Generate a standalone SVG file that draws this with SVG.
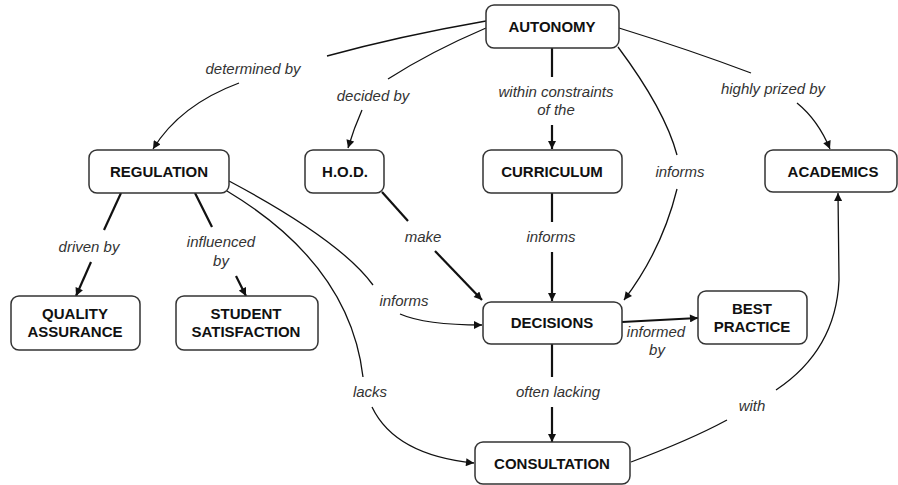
<svg xmlns="http://www.w3.org/2000/svg" width="898" height="485" viewBox="0 0 898 485">
  <style>
    .box { fill: #ffffff; stroke: #333333; stroke-width: 1.5; }
    .name { font-family: "Liberation Sans", Arial, sans-serif; font-weight: bold; font-size: 15px; fill: #111111; text-anchor: middle; }
    .lbl { font-family: "Liberation Sans", Arial, sans-serif; font-style: italic; font-size: 15px; fill: #333333; text-anchor: middle; }
    .thin { fill: none; stroke: #111111; stroke-width: 1.3; }
    .thick { fill: none; stroke: #111111; stroke-width: 2.2; }
    .arr { marker-end: url(#head); }
  </style>
  <defs>
    <marker id="head" viewBox="0 0 10 10" refX="10" refY="5" markerWidth="9" markerHeight="8" markerUnits="userSpaceOnUse" orient="auto">
      <path d="M0,0 L10,5 L0,10 Z" fill="#111111"/>
    </marker>
  </defs>

  <rect width="898" height="485" fill="#ffffff"/>

  <!-- connectors -->
  <g id="connectors">
    <!-- AUTONOMY - determined by - REGULATION -->
    <path class="thin" d="M486,21 Q400,36 327,56"/>
    <path class="thin arr" d="M239,83 Q180,105 153,149"/>
    <!-- AUTONOMY - decided by - H.O.D. -->
    <path class="thin" d="M486,28 Q430,52 388,79"/>
    <path class="thin arr" d="M362,110 Q354,128 348,148"/>
    <!-- AUTONOMY - within constraints of the - CURRICULUM -->
    <path class="thick" d="M552,48 L552,77"/>
    <path class="thick arr" d="M552,125 L552,149"/>
    <!-- AUTONOMY - informs - DECISIONS -->
    <path class="thin" d="M618,47 Q665,110 677,155"/>
    <path class="thin arr" d="M677,189 Q662,250 624,300"/>
    <!-- AUTONOMY - highly prized by - ACADEMICS -->
    <path class="thin" d="M619,28 Q690,50 751,73"/>
    <path class="thin arr" d="M797,103 Q818,120 830,149"/>
    <!-- REGULATION - driven by - QUALITY ASSURANCE -->
    <path class="thick" d="M121,193 L104,230"/>
    <path class="thick arr" d="M91,262 L76,296"/>
    <!-- REGULATION - influenced by - STUDENT SATISFACTION -->
    <path class="thick" d="M195,193 L212,227"/>
    <path class="thick arr" d="M236,276 L246,296"/>
    <!-- REGULATION - informs - DECISIONS -->
    <path class="thin" d="M229,181 Q340,240 373,285"/>
    <path class="thin arr" d="M400,314 Q425,325 482,325"/>
    <!-- REGULATION - lacks - CONSULTATION -->
    <path class="thin" d="M227,191 Q350,265 363,377"/>
    <path class="thin arr" d="M372,407 Q395,455 474,463"/>
    <!-- H.O.D. - make - DECISIONS -->
    <path class="thick" d="M382,192 L408,221"/>
    <path class="thick arr" d="M435,251 L482,300"/>
    <!-- CURRICULUM - informs - DECISIONS -->
    <path class="thick" d="M552,193 L552,222"/>
    <path class="thick arr" d="M552,252 L552,301"/>
    <!-- DECISIONS - informed by - BEST PRACTICE -->
    <path class="thick arr" d="M622,322 L698,318"/>
    <!-- DECISIONS - often lacking - CONSULTATION -->
    <path class="thick" d="M552,344 L552,377"/>
    <path class="thick arr" d="M552,407 L552,442"/>
    <!-- CONSULTATION - with - ACADEMICS -->
    <path class="thin" d="M631,462 Q690,440 727,420"/>
    <path class="thin arr" d="M776,390 Q836,350 839,280 L838,193"/>
  </g>

  <!-- linking phrases -->
  <g id="labels">
    <text class="lbl" x="253" y="74">determined by</text>
    <text class="lbl" x="373" y="101">decided by</text>
    <text class="lbl" x="556" y="97">within constraints</text>
    <text class="lbl" x="556" y="115">of the</text>
    <text class="lbl" x="773" y="94">highly prized by</text>
    <text class="lbl" x="680" y="177">informs</text>
    <text class="lbl" x="551" y="242">informs</text>
    <text class="lbl" x="423" y="242">make</text>
    <text class="lbl" x="89" y="252">driven by</text>
    <text class="lbl" x="221" y="247">influenced</text>
    <text class="lbl" x="221" y="266">by</text>
    <text class="lbl" x="404" y="306">informs</text>
    <text class="lbl" x="370" y="397">lacks</text>
    <text class="lbl" x="656" y="337">informed</text>
    <text class="lbl" x="657" y="355">by</text>
    <text class="lbl" x="558" y="397">often lacking</text>
    <text class="lbl" x="752" y="411">with</text>
  </g>

  <!-- concepts -->
  <g id="autonomy">
    <rect class="box" x="486" y="5" width="133" height="43" rx="8"/>
    <text class="name" x="552" y="32">AUTONOMY</text>
  </g>
  <g id="regulation">
    <rect class="box" x="89" y="150" width="140" height="43" rx="8"/>
    <text class="name" x="159" y="177">REGULATION</text>
  </g>
  <g id="hod">
    <rect class="box" x="305" y="150" width="79" height="43" rx="8"/>
    <text class="name" x="345" y="177">H.O.D.</text>
  </g>
  <g id="curriculum">
    <rect class="box" x="483" y="150" width="139" height="43" rx="8"/>
    <text class="name" x="552" y="177">CURRICULUM</text>
  </g>
  <g id="academics">
    <rect class="box" x="765" y="150" width="132" height="42" rx="8"/>
    <text class="name" x="833" y="177">ACADEMICS</text>
  </g>
  <g id="quality-assurance">
    <rect class="box" x="11" y="296" width="129" height="54" rx="8"/>
    <text class="name" x="75" y="319">QUALITY</text>
    <text class="name" x="75" y="337">ASSURANCE</text>
  </g>
  <g id="student-satisfaction">
    <rect class="box" x="176" y="296" width="142" height="54" rx="8"/>
    <text class="name" x="246" y="319">STUDENT</text>
    <text class="name" x="246" y="337">SATISFACTION</text>
  </g>
  <g id="decisions">
    <rect class="box" x="483" y="302" width="139" height="42" rx="8"/>
    <text class="name" x="552" y="328">DECISIONS</text>
  </g>
  <g id="best-practice">
    <rect class="box" x="698" y="291" width="109" height="53" rx="8"/>
    <text class="name" x="752" y="314">BEST</text>
    <text class="name" x="752" y="332">PRACTICE</text>
  </g>
  <g id="consultation">
    <rect class="box" x="475" y="442" width="155" height="42" rx="8"/>
    <text class="name" x="552" y="469">CONSULTATION</text>
  </g>
</svg>
